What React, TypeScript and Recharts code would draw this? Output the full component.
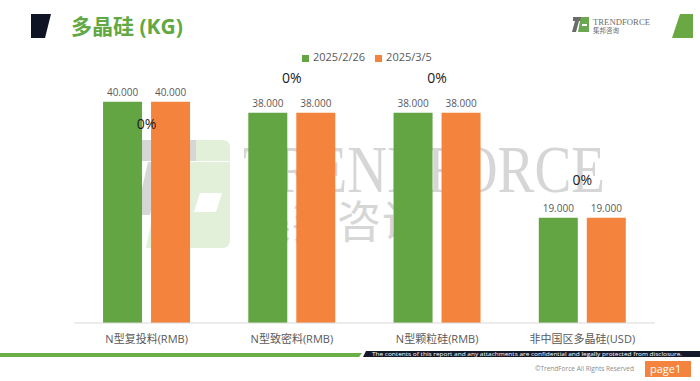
import React from "react";
import { BarChart, Bar, XAxis, YAxis, Legend, LabelList } from "recharts";

const categories = ["N型复投料(RMB)", "N型致密料(RMB)", "N型颗粒硅(RMB)", "非中国区多晶硅(USD)"];
const priceFeb26 = [40, 38, 38, 19];
const priceMar5 = [40, 38, 38, 19];
const changePct = [0, 0, 0, 0];

// where the "0%" labels sit relative to the green bar top (px), as placed in the slide
const changeLabelOffset = [24, -33, -33, -37];

const GREEN = "#63a543";
const ORANGE = "#f4843d";
const FONT = "'Open Sans', 'Noto Sans CJK SC', sans-serif";
const BAR_GAP = 9;

const data = categories.map((name, i) => ({
  name,
  d0226: priceFeb26[i],
  d0305: priceMar5[i],
  change: changePct[i],
}));

function ChangeLabel(props: any) {
  const { x, y, width, value, index } = props;
  const cx = Number(x) + Number(width) + BAR_GAP / 2;
  const cy = Number(y) + changeLabelOffset[index ?? 0];
  return (
    <text x={cx} y={cy} textAnchor="middle" dominantBaseline="middle" fontSize={14} fill="#1a1a1a" fontFamily={FONT}>
      {`${value}%`}
    </text>
  );
}

function Watermark() {
  return (
    <svg width={700} height={381} style={{ position: "absolute", left: 0, top: 0 }}>
      {/* logo */}
      <rect x={140} y={140} width={56} height={21} fill="#d6d6d6" />
      <path d="M196 140 H222 Q230 140 230 148 V161 H196 Z" fill="#e2f0d9" />
      <polygon points="148,162 162,162 150,215 136,215" fill="#d6d6d6" />
      <path d="M164 162 H230 V240 Q230 248 222 248 H146 Z" fill="#e2f0d9" />
      <polygon points="200,193 222,193 216,212 194,212" fill="#ffffff" />
      <text x={243} y={192} fontSize={68} fontFamily="'Liberation Serif', serif" fill="#d6d6d6" textLength={362} lengthAdjust="spacingAndGlyphs">
        TRENDFORCE
      </text>
      <text x={247} y={238} fontSize={44} fontFamily="'Noto Sans CJK SC', sans-serif" fill="#d6d6d6" letterSpacing={1}>
        集邦咨询
      </text>
    </svg>
  );
}

function Decorations() {
  return (
    <svg width={700} height={381} style={{ position: "absolute", left: 0, top: 0, pointerEvents: "none" }}>
      <polygon points="31,14 51,14 45,38 31,38" fill="#0f1424" />
      <text x={71} y={34} fontSize={21} fontWeight={700} fill="#62a843" fontFamily={FONT}>
        多晶硅 (KG)
      </text>
      {/* TrendForce logo */}
      <rect x={573} y={17} width={8} height={4} fill="#6b6b6b" />
      <polygon points="575,21 579,21 576,32 572,32" fill="#6b6b6b" />
      <path d="M581 17 H589 V32 H578 L580 21 Z" fill="#6aa84f" />
      <rect x={582} y={24} width={5} height={2} fill="#ffffff" />
      <text x={593} y={25} fontSize={8} fontFamily="'Liberation Serif', serif" fill="#6b6b6b" textLength={57} lengthAdjust="spacingAndGlyphs">
        TRENDFORCE
      </text>
      <text x={593} y={33} fontSize={6.5} fontFamily="'Noto Sans CJK SC', sans-serif" fill="#6b6b6b">
        集邦咨询
      </text>
      <polygon points="680,14 693,14 693,38 672,38" fill="#6aa843" />
      {/* footer */}
      <polygon points="0,353 362,353 359,357 0,357" fill="#6aaf45" />
      <polygon points="366,351 700,351 700,357 363,357" fill="#141a2b" />
      <text x={372} y={356} fontSize={5.5} fill="#ffffff" fontFamily={FONT} textLength={310} lengthAdjust="spacingAndGlyphs">
        The contents of this report and any attachments are confidential and legally protected from disclosure.
      </text>
      <text x={535} y={371} fontSize={6.5} fill="#8c8c8c" fontFamily={FONT}>
        ©TrendForce All Rights Reserved
      </text>
      <rect x={645} y={361} width={46} height={16} fill="#f4843d" />
      <text x={650} y={373} fontSize={11} fill="#ffffff" fontFamily={FONT}>
        page1
      </text>
    </svg>
  );
}

export default function App() {
  return (
    <div style={{ position: "absolute", left: 0, top: 0, width: 700, height: 381, overflow: "hidden", background: "#fff", fontFamily: FONT }}>
      <Watermark />
      <div style={{ position: "absolute", left: 0, top: 0 }}>
        <BarChart
          width={700}
          height={381}
          data={data}
          margin={{ top: 59, right: 45, left: 74, bottom: 28 }}
          barGap={BAR_GAP}
          barCategoryGap="20%"
        >
          <XAxis
            dataKey="name"
            height={30}
            axisLine={{ stroke: "#d9d9d9" }}
            tickLine={false}
            tick={{ fontSize: 11, fill: "#595959", fontFamily: FONT }}
            tickMargin={6}
            interval={0}
          />
          <YAxis hide domain={[0, 45]} />
          <Legend
            verticalAlign="top"
            iconType="square"
            iconSize={7}
            wrapperStyle={{ position: "absolute", top: 49, left: 302, width: "auto", fontSize: 11, fontFamily: FONT }}
            formatter={(v: string) => <span style={{ color: "#595959" }}>{v}</span>}
          />
          <Bar dataKey="d0226" name="2025/2/26" fill={GREEN} isAnimationActive={false}>
            <LabelList dataKey="d0226" position="top" offset={6} fontSize={10} fill="#595959" fontFamily={FONT} formatter={(v: any) => Number(v).toFixed(3)} />
            <LabelList dataKey="change" content={ChangeLabel} />
          </Bar>
          <Bar dataKey="d0305" name="2025/3/5" fill={ORANGE} isAnimationActive={false}>
            <LabelList dataKey="d0305" position="top" offset={6} fontSize={10} fill="#595959" fontFamily={FONT} formatter={(v: any) => Number(v).toFixed(3)} />
          </Bar>
        </BarChart>
      </div>
      <Decorations />
    </div>
  );
}
